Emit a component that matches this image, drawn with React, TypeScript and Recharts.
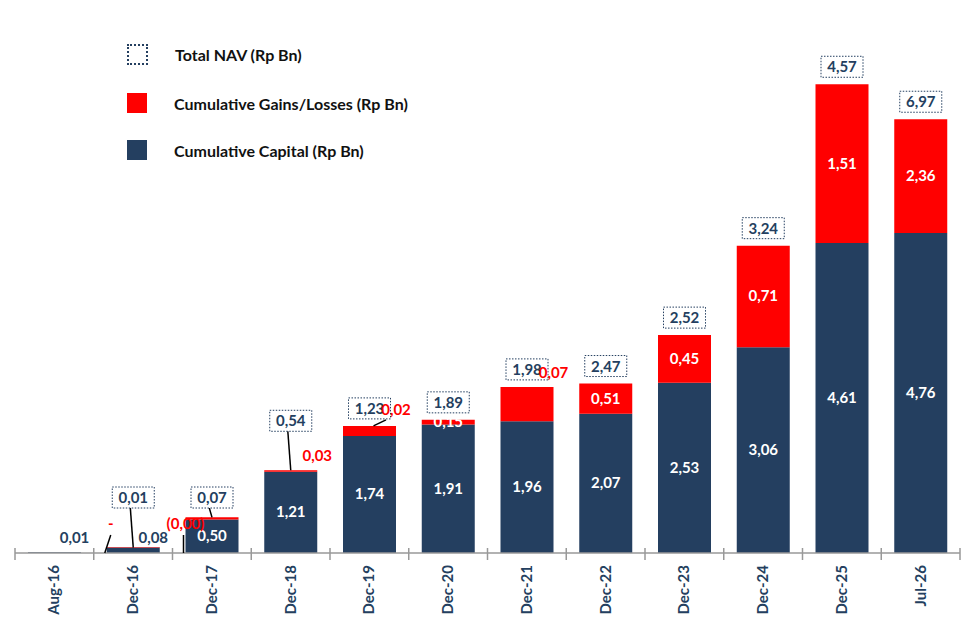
import { Bar, BarChart, LabelList, XAxis, YAxis } from "recharts";

const periods = ["Aug-16", "Dec-16", "Dec-17", "Dec-18", "Dec-19", "Dec-20", "Dec-21", "Dec-22", "Dec-23", "Dec-24", "Dec-25", "Jul-26"];
const capital = [0.01, 0.08, 0.5, 1.21, 1.74, 1.91, 1.96, 2.07, 2.53, 3.06, 4.61, 4.76];
const gains = [0, -0.004, 0.03, 0.02, 0.15, 0.07, 0.51, 0.45, 0.71, 1.51, 2.36, 1.69];
const gainLabels = ["-", "(0,00)", "0,03", "0,02", "0,15", "0,07", "0,51", "0,45", "0,71", "1,51", "2,36", "1,69"];
const nav = [0.01, 0.07, 0.54, 1.23, 1.89, 1.98, 2.47, 2.52, 3.24, 4.57, 6.97, 6.45];

const NAVY = "#243f60";
const RED = "#ff0000";
const FONT = "Lato, 'Open Sans', sans-serif";
const BASE = 553;

const data = periods.map((p, i) => ({ period: p, capital: capital[i], gains: gains[i] }));
const fmt = (n: number) => n.toFixed(2).replace(".", ",");

function CapitalLabel(props: any) {
  const { x, y, width, height, index } = props;
  const cx = x + width / 2;
  if (height < 20) {
    return (
      <text x={cx + 20} y={BASE - 10} textAnchor="middle" fill={NAVY} fontSize={15} fontWeight={700} fontFamily={FONT}>
        {fmt(capital[index])}
      </text>
    );
  }
  return (
    <text x={cx} y={y + height / 2 + 5} textAnchor="middle" fill="#fff" fontSize={15} fontWeight={700} fontFamily={FONT}>
      {fmt(capital[index])}
    </text>
  );
}

function GainsLabel(props: any) {
  const { x, y, width, height, index } = props;
  const cx = x + width / 2;
  const top = Math.min(y, y + height);
  const h = Math.abs(height);
  const small = top > BASE - 100;
  const boxY = small ? (index < 2 ? BASE - 56 : top - 50) : top - 18;
  const out: any[] = [];
  // NAV box
  out.push(
    <g key="nav">
      {small && <line x1={cx - 3} y1={boxY + 10} x2={cx} y2={top} stroke="#000" strokeWidth={1.5} />}
      <rect x={cx - 21} y={boxY - 10} width={42} height={21} fill="#fff" stroke={NAVY} strokeDasharray="1.5 1.5" />
      <text x={cx} y={boxY + 6} textAnchor="middle" fill={NAVY} fontSize={15} fontWeight={700} fontFamily={FONT}>
        {fmt(nav[index])}
      </text>
    </g>
  );
  const v = gains[index];
  if (v >= 0.1) {
    out.push(
      <text key="g" x={cx} y={top + h / 2 + 5} textAnchor="middle" fill="#fff" fontSize={15} fontWeight={700} fontFamily={FONT}>
        {gainLabels[index]}
      </text>
    );
  } else if (v <= 0) {
    const lx = x - 2;
    out.push(
      <g key="g">
        <line x1={lx} y1={BASE} x2={lx + (index === 0 ? 6 : 0)} y2={BASE - 18} stroke="#000" strokeWidth={1.5} />
        <text x={lx + (index === 0 ? 6 : 2)} y={BASE - 24} textAnchor="middle" fill={RED} fontSize={15} fontWeight={700} fontFamily={FONT}>
          {gainLabels[index]}
        </text>
      </g>
    );
  } else {
    const rx = x + width;
    out.push(
      <g key="g">
        {index === 3 && <line x1={cx + 4} y1={top} x2={rx - 10} y2={top - 6} stroke="#000" strokeWidth={1.5} />}
        <text x={rx} y={top - (index === 3 ? 11 : 9)} textAnchor="middle" fill={RED} fontSize={15} fontWeight={700} fontFamily={FONT}>
          {gainLabels[index]}
        </text>
      </g>
    );
  }
  return <g>{out}</g>;
}

function PeriodTick(props: any) {
  const { x, y, payload, index } = props;
  const half = 945 / periods.length / 2;
  return (
    <g>
      <line x1={x - half} y1={y - 13} x2={x - half} y2={y - 1} stroke="#999" strokeWidth={1.5} />
      {index === periods.length - 1 && <line x1={x + half} y1={y - 13} x2={x + half} y2={y - 1} stroke="#999" strokeWidth={1.5} />}
      <text transform={`translate(${x + 5},${y + 4}) rotate(-90)`} textAnchor="end" fill={NAVY} fontSize={15} fontWeight={700} fontFamily={FONT}>
        {payload.value}
      </text>
    </g>
  );
}

const legendItems = [
  { label: "Total NAV (Rp Bn)", y: 44, kind: "nav" },
  { label: "Cumulative Gains/Losses (Rp Bn)", y: 93, kind: "gains" },
  { label: "Cumulative Capital (Rp Bn)", y: 140, kind: "capital" },
];

export default function App() {
  return (
    <div style={{ position: "absolute", left: 0, top: 0, width: 975, height: 636, background: "#fff" }}>
      <BarChart width={975} height={636} data={data} margin={{ top: 15, right: 15, left: 15, bottom: 0 }} barSize={53}>
        <XAxis dataKey="period" height={83} interval={0} tickLine={false} axisLine={{ stroke: "#999", strokeWidth: 1.5 }} tick={<PeriodTick />} />
        <YAxis hide domain={[0, 8]} />
        <Bar dataKey="capital" stackId="a" fill={NAVY} isAnimationActive={false}>
          <LabelList dataKey="capital" content={<CapitalLabel />} />
        </Bar>
        <Bar dataKey="gains" stackId="a" fill={RED} isAnimationActive={false}>
          <LabelList dataKey="gains" content={<GainsLabel />} />
        </Bar>
      </BarChart>
      {legendItems.map((it) => (
        <div key={it.label} style={{ position: "absolute", left: 127, top: it.y, display: "flex", alignItems: "center" }}>
          <div
            style={{
              width: it.kind === "nav" ? 17 : 20,
              height: it.kind === "nav" ? 17 : 20,
              background: it.kind === "gains" ? RED : it.kind === "capital" ? NAVY : "#fff",
              border: it.kind === "nav" ? `2px dotted ${NAVY}` : "none",
            }}
          />
          <span style={{ marginLeft: 27, fontFamily: FONT, fontWeight: 700, fontSize: 16, color: "#111" }}>{it.label}</span>
        </div>
      ))}
    </div>
  );
}
